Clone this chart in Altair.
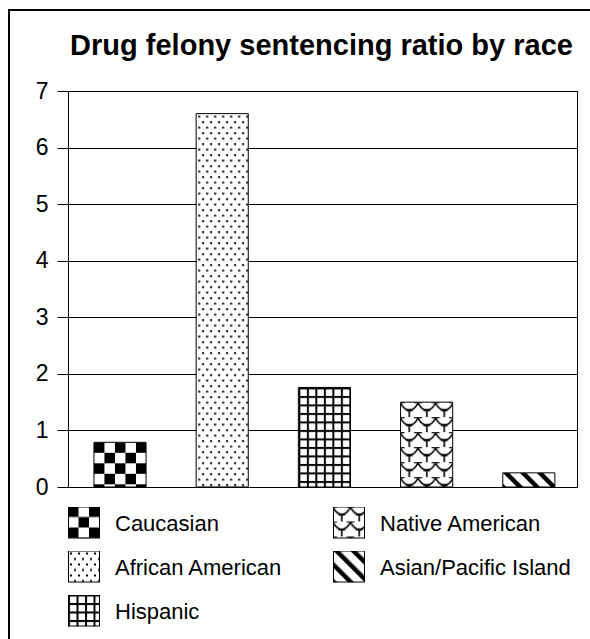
import base64
import altair as alt
import pandas as pd

# ---- data ----
CATEGORIES = ["Caucasian", "African American", "Hispanic", "Native American", "Asian/Pacific Island"]
RATIOS = [0.79, 6.6, 1.76, 1.5, 0.25]
Y_TICKS = [0, 1, 2, 3, 4, 5, 6, 7]
LEGEND_COLUMN = [0, 0, 0, 1, 1]
LEGEND_ROW = [0, 1, 2, 0, 1]
TITLE = "Drug felony sentencing ratio by race"

FONT = "Liberation Sans, Arial, Helvetica, sans-serif"

# ---- black & white fill patterns (style only) ----
PATTERN_TILES = {
    "Caucasian": (
        '<pattern id="p" patternUnits="userSpaceOnUse" width="21" height="21">'
        '<rect width="21" height="21" fill="white"/>'
        '<rect width="10.5" height="10.5" fill="black"/>'
        '<rect x="10.5" y="10.5" width="10.5" height="10.5" fill="black"/></pattern>'
    ),
    "African American": (
        '<pattern id="p" patternUnits="userSpaceOnUse" width="8" height="11">'
        '<rect width="8" height="11" fill="white"/>'
        '<rect x="2" y="2" width="2" height="2" fill="black"/>'
        '<rect x="6" y="7.5" width="2" height="2" fill="black"/></pattern>'
    ),
    "Hispanic": (
        '<pattern id="p" patternUnits="userSpaceOnUse" width="8.5" height="8.5">'
        '<rect width="8.5" height="8.5" fill="white"/>'
        '<rect x="0" y="0" width="2" height="8.5" fill="black"/>'
        '<rect x="0" y="0" width="8.5" height="2" fill="black"/></pattern>'
    ),
    "Native American": (
        '<pattern id="p" patternUnits="userSpaceOnUse" width="17.5" height="15">'
        '<rect width="17.5" height="15" fill="white"/>'
        '<path d="M0,1 Q4,8 8.75,8 Q13.5,8 17.5,1" fill="none" stroke="black" stroke-width="1.6"/>'
        '<path d="M5.5,8 L12,8" stroke="black" stroke-width="2.2"/>'
        '<path d="M8.75,8 L8.75,15" stroke="black" stroke-width="1.6"/>'
        '<path d="M0,0 L4,0 M13.5,0 L17.5,0" stroke="black" stroke-width="2.2"/>'
        '</pattern>'
    ),
    "Asian/Pacific Island": (
        '<pattern id="p" patternUnits="userSpaceOnUse" width="12" height="12" '
        'patternTransform="rotate(-45)">'
        '<rect width="12" height="12" fill="white"/>'
        '<rect width="4.5" height="12" fill="black"/></pattern>'
    ),
}


def pattern_url(tile, border):
    edge = ('<rect width="100%" height="100%" fill="none" stroke="black" stroke-width="2"/>'
            if border else "")
    svg = ('<svg xmlns="http://www.w3.org/2000/svg" width="100%" height="100%">'
           f'<defs>{tile}</defs><rect width="100%" height="100%" fill="url(#p)"/>{edge}</svg>')
    return "data:image/svg+xml;base64," + base64.b64encode(svg.encode()).decode()


df = pd.DataFrame({
    "race": CATEGORIES,
    "ratio": RATIOS,
    "col": LEGEND_COLUMN,
    "row": LEGEND_ROW,
})
df["bar_url"] = [pattern_url(PATTERN_TILES[c], False) for c in CATEGORIES]
df["swatch_url"] = [pattern_url(PATTERN_TILES[c], True) for c in CATEGORIES]

x_enc = alt.X("race:N", sort=CATEGORIES, axis=None,
              scale=alt.Scale(paddingInner=0.49, paddingOuter=0.235, align=0.54))
y_enc = alt.Y("ratio:Q", title=None,
              scale=alt.Scale(domain=[0, 7], nice=False),
              axis=alt.Axis(values=Y_TICKS, format="d", tickSize=11, labelPadding=9,
                            labelFont=FONT, labelFontSize=23, labelColor="black",
                            tickColor="black", domainColor="black", gridColor="black",
                            gridOpacity=1, grid=True, tickWidth=1, gridWidth=1))

base = alt.Chart(df)
bar_fill = base.mark_image(aspect=False).encode(
    x=x_enc, y=y_enc, y2=alt.datum(0), url="bar_url:N"
)
bar_edge = base.mark_bar(fill="white", fillOpacity=0, stroke="black", strokeWidth=1).encode(
    x=x_enc, y=alt.Y("ratio:Q"), y2=alt.datum(0)
)
bars = alt.layer(bar_fill, bar_edge)

# legend below the plot: two columns, three rows
lx = alt.X("col:Q", axis=None, scale=alt.Scale(domain=[0, 1], range=[0, 265]))
ly = alt.Y("row:Q", axis=None, scale=alt.Scale(domain=[0, 2], range=[431.5, 519.5]))
swatches = base.mark_image(width=32, height=32, align="left", baseline="middle",
                           aspect=False).encode(x=lx, y=ly, url="swatch_url:N")
labels = base.mark_text(align="left", baseline="middle", dx=47, dy=1, font=FONT,
                        fontSize=22, color="black").encode(x=lx, y=ly, text="race:N")
legend = alt.layer(swatches, labels)

frame_top = alt.Chart(df).mark_rule(color="black", strokeWidth=2).encode(
    x=alt.value(-59), x2=alt.value(560), y=alt.value(-81))
frame_left = alt.Chart(df).mark_rule(color="black", strokeWidth=2).encode(
    x=alt.value(-59), y=alt.value(-82), y2=alt.value(600))

chart = alt.layer(bars, legend, frame_top, frame_left).resolve_scale(
    x="independent", y="independent"
).properties(
    width=509, height=396,
    padding={"left": 68, "top": 91, "right": 13, "bottom": 152},
    autosize=alt.AutoSizeParams(type="none"),
    background="white",
    title=alt.Title(TITLE, font=FONT, fontSize=29, fontWeight="bold", color="black",
                    anchor="middle", frame="group", dx=-1, offset=-53),
).configure_view(stroke="black", strokeWidth=1)

chart.save("out.html", embed_options={"renderer": "svg", "actions": False})
